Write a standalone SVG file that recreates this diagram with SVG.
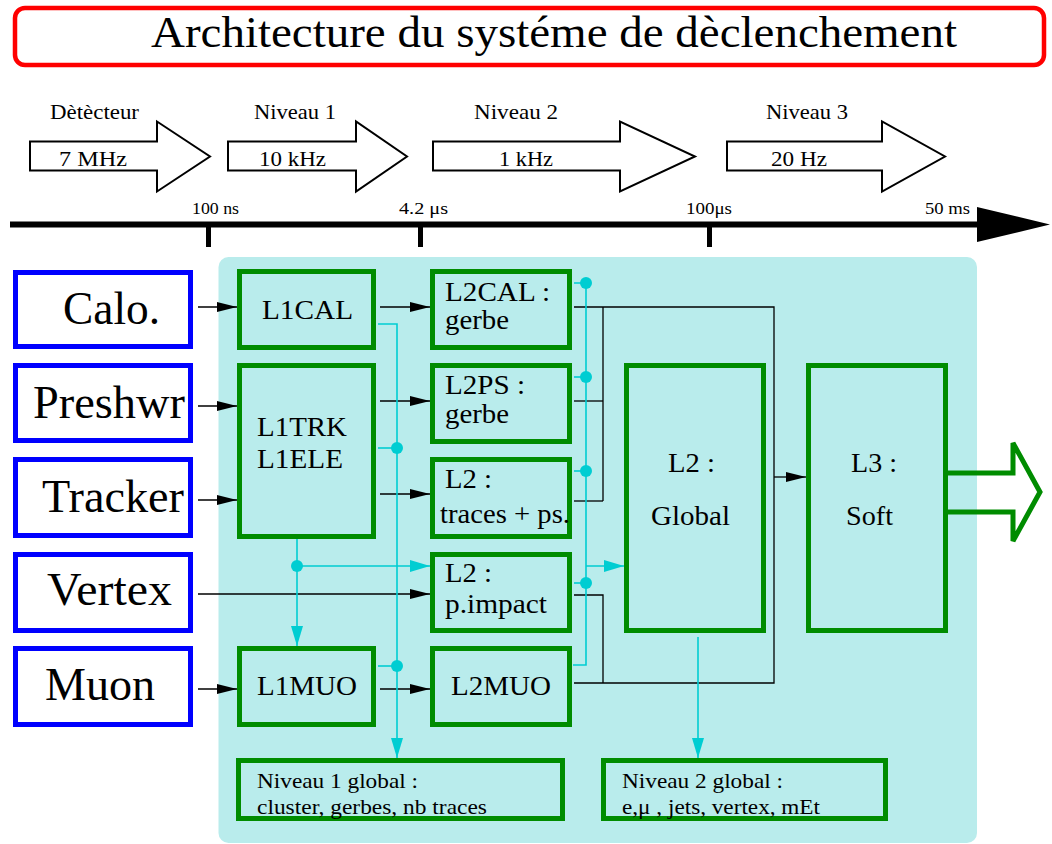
<svg xmlns="http://www.w3.org/2000/svg" width="1052" height="844" viewBox="0 0 1052 844">
<style>
text{font-family:"Liberation Serif","Times New Roman",serif;fill:#000}
.gb{fill:none;stroke:#008c00;stroke-width:5}
.bb{fill:#fff;stroke:#0000ff;stroke-width:5}
.bk{fill:none;stroke:#000;stroke-width:1.3}
.cy{fill:none;stroke:#00cdd2;stroke-width:1.6}
.dot{fill:#00cdd2}
.ba{fill:#fff;stroke:#000;stroke-width:2}
.hd{font-size:22px}
.tk{font-size:16px}
.src{font-size:46px}
.gt{font-size:28px}
.sm{font-size:22px}
</style>
<defs>
<marker id="ab" markerWidth="20" markerHeight="10" refX="20" refY="5" orient="auto" markerUnits="userSpaceOnUse"><path d="M0,0 L20,5 L0,10 z" fill="#000"/></marker>
<marker id="ac" markerWidth="20" markerHeight="12" refX="20" refY="6" orient="auto" markerUnits="userSpaceOnUse"><path d="M0,0 L20,6 L0,12 z" fill="#00cdd2"/></marker>
</defs>

<g id="title">
<rect x="15" y="8" width="1029" height="57" rx="10" fill="#fff" stroke="#ff0000" stroke-width="4.5"/>
<text x="151" y="47" font-size="45" textLength="806" lengthAdjust="spacingAndGlyphs">Architecture du systéme de dèclenchement</text>
</g>

<g id="rates">
<path class="ba" d="M30,141.5 H157 V121.5 L210,156.5 L157,191.5 V170.5 H30 Z"/>
<path class="ba" d="M228,141.5 H356 V121.5 L407,156.5 L356,191.5 V170.5 H228 Z"/>
<path class="ba" d="M433,141.5 H620 V121.5 L695,156.5 L620,191.5 V170.5 H433 Z"/>
<path class="ba" d="M727,141.5 H882 V121.5 L945,156.5 L882,191.5 V170.5 H727 Z"/>
<text class="hd" x="50" y="119" textLength="89" lengthAdjust="spacingAndGlyphs">Dètècteur</text>
<text class="hd" x="254" y="119" textLength="82" lengthAdjust="spacingAndGlyphs">Niveau 1</text>
<text class="hd" x="474" y="119" textLength="84" lengthAdjust="spacingAndGlyphs">Niveau 2</text>
<text class="hd" x="766" y="119" textLength="82" lengthAdjust="spacingAndGlyphs">Niveau 3</text>
<text class="hd" x="59" y="166" textLength="68" lengthAdjust="spacingAndGlyphs">7 MHz</text>
<text class="hd" x="259" y="166" textLength="67" lengthAdjust="spacingAndGlyphs">10 kHz</text>
<text class="hd" x="499" y="166" textLength="54" lengthAdjust="spacingAndGlyphs">1 kHz</text>
<text class="hd" x="771" y="166" textLength="56" lengthAdjust="spacingAndGlyphs">20 Hz</text>
</g>

<g id="timeline">
<line x1="10" y1="224.5" x2="980" y2="224.5" stroke="#000" stroke-width="6"/>
<path d="M977,207 L1050,224.5 L977,242 Z" fill="#000"/>
<line x1="208.5" y1="224" x2="208.5" y2="247" stroke="#000" stroke-width="5"/>
<line x1="420.5" y1="224" x2="420.5" y2="247" stroke="#000" stroke-width="5"/>
<line x1="709.5" y1="224" x2="709.5" y2="247" stroke="#000" stroke-width="5"/>
<text class="tk" x="192" y="214" textLength="47" lengthAdjust="spacingAndGlyphs">100 ns</text>
<text class="tk" x="399" y="214" textLength="49" lengthAdjust="spacingAndGlyphs">4.2 μs</text>
<text class="tk" x="686" y="214" textLength="46" lengthAdjust="spacingAndGlyphs">100μs</text>
<text class="tk" x="925" y="214" textLength="45" lengthAdjust="spacingAndGlyphs">50 ms</text>
</g>

<rect id="panel" x="218.5" y="257" width="758.5" height="586" rx="10" fill="#b9ecec"/>

<g id="out-arrow">
<path d="M948,473 H1013 V443 L1040,492 L1013,541 V512 H948" fill="none" stroke="#008c00" stroke-width="5"/>
</g>

<g id="calo"><rect class="bb" x="15.5" y="272.5" width="175" height="74"/><text class="src" x="63" y="324" textLength="97" lengthAdjust="spacingAndGlyphs">Calo.</text></g>
<g id="preshwr"><rect class="bb" x="15.5" y="365.5" width="175" height="75"/><text class="src" x="33" y="418" textLength="152" lengthAdjust="spacingAndGlyphs">Preshwr</text></g>
<g id="tracker"><rect class="bb" x="15.5" y="459.5" width="175" height="76"/><text class="src" x="42" y="512" textLength="142" lengthAdjust="spacingAndGlyphs">Tracker</text></g>
<g id="vertex"><rect class="bb" x="15.5" y="554.5" width="175" height="76"/><text class="src" x="47" y="605" textLength="125" lengthAdjust="spacingAndGlyphs">Vertex</text></g>
<g id="muon"><rect class="bb" x="15.5" y="648.5" width="175" height="76"/><text class="src" x="45" y="700" textLength="110" lengthAdjust="spacingAndGlyphs">Muon</text></g>

<g id="l1cal"><rect class="gb" x="239.5" y="271.5" width="134" height="76"/><text class="gt" x="262" y="319" textLength="91" lengthAdjust="spacingAndGlyphs">L1CAL</text></g>
<g id="l1trk"><rect class="gb" x="239.5" y="365.5" width="134" height="171"/><text class="gt" x="257" y="436" textLength="90" lengthAdjust="spacingAndGlyphs">L1TRK</text><text class="gt" x="257" y="468" textLength="86" lengthAdjust="spacingAndGlyphs">L1ELE</text></g>
<g id="l1muo"><rect class="gb" x="239.5" y="648.5" width="134" height="76"/><text class="gt" x="257" y="695" textLength="100" lengthAdjust="spacingAndGlyphs">L1MUO</text></g>

<g id="l2cal"><rect class="gb" x="432.5" y="271.5" width="137" height="76"/><text class="gt" x="445" y="301" textLength="105" lengthAdjust="spacingAndGlyphs">L2CAL :</text><text class="gt" x="445" y="329" textLength="64" lengthAdjust="spacingAndGlyphs">gerbe</text></g>
<g id="l2ps"><rect class="gb" x="432.5" y="365.5" width="137" height="76"/><text class="gt" x="445" y="394" textLength="80" lengthAdjust="spacingAndGlyphs">L2PS :</text><text class="gt" x="445" y="423" textLength="64" lengthAdjust="spacingAndGlyphs">gerbe</text></g>
<g id="l2trk"><rect class="gb" x="432.5" y="459.5" width="137" height="77"/><text class="gt" x="445" y="488" textLength="47" lengthAdjust="spacingAndGlyphs">L2 :</text><text class="gt" x="440" y="523" textLength="130" lengthAdjust="spacingAndGlyphs">traces + ps.</text></g>
<g id="l2imp"><rect class="gb" x="432.5" y="554.5" width="137" height="76"/><text class="gt" x="445" y="582" textLength="47" lengthAdjust="spacingAndGlyphs">L2 :</text><text class="gt" x="445" y="613" textLength="102" lengthAdjust="spacingAndGlyphs">p.impact</text></g>
<g id="l2muo"><rect class="gb" x="432.5" y="648.5" width="137" height="76"/><text class="gt" x="451" y="695" textLength="100" lengthAdjust="spacingAndGlyphs">L2MUO</text></g>

<g id="l2global"><rect class="gb" x="626.5" y="365.5" width="137" height="265"/><text class="gt" x="668" y="472" textLength="47" lengthAdjust="spacingAndGlyphs">L2 :</text><text class="gt" x="651" y="525" textLength="79" lengthAdjust="spacingAndGlyphs">Global</text></g>
<g id="l3soft"><rect class="gb" x="808.5" y="365.5" width="137" height="265"/><text class="gt" x="851" y="472" textLength="46" lengthAdjust="spacingAndGlyphs">L3 :</text><text class="gt" x="846" y="525" textLength="47" lengthAdjust="spacingAndGlyphs">Soft</text></g>

<g id="n1global"><rect class="gb" x="238.5" y="760.5" width="324" height="58"/><text class="sm" x="257" y="788" textLength="161" lengthAdjust="spacingAndGlyphs">Niveau 1 global :</text><text class="sm" x="257" y="814" textLength="230" lengthAdjust="spacingAndGlyphs">cluster, gerbes, nb traces</text></g>
<g id="n2global"><rect class="gb" x="603.5" y="760.5" width="282" height="58"/><text class="sm" x="622" y="788" textLength="161" lengthAdjust="spacingAndGlyphs">Niveau 2 global :</text><text class="sm" x="622" y="814" textLength="198" lengthAdjust="spacingAndGlyphs">e,μ , jets, vertex, mEt</text></g>

<g id="connectors">
<line class="bk" x1="198" y1="307" x2="237" y2="307" marker-end="url(#ab)"/>
<line class="bk" x1="198" y1="406" x2="237" y2="406" marker-end="url(#ab)"/>
<line class="bk" x1="198" y1="500" x2="237" y2="500" marker-end="url(#ab)"/>
<line class="bk" x1="198" y1="594" x2="430" y2="594" marker-end="url(#ab)"/>
<line class="bk" x1="198" y1="689" x2="237" y2="689" marker-end="url(#ab)"/>
<line class="bk" x1="380" y1="307" x2="430" y2="307" marker-end="url(#ab)"/>
<line class="bk" x1="380" y1="401" x2="430" y2="401" marker-end="url(#ab)"/>
<line class="bk" x1="380" y1="494" x2="430" y2="494" marker-end="url(#ab)"/>
<line class="bk" x1="380" y1="689" x2="430" y2="689" marker-end="url(#ab)"/>
<path class="bk" d="M574,307 H774 V683 H574"/>
<path class="bk" d="M603,307 V501"/>
<path class="bk" d="M574,401 H603"/>
<path class="bk" d="M574,501 H603"/>
<path class="bk" d="M574,595 H603 V683"/>
<line class="bk" x1="774" y1="477" x2="806" y2="477" marker-end="url(#ab)"/>

<path class="cy" d="M378,324 H397 V758" marker-end="url(#ac)"/>
<path class="cy" d="M378,448 H397"/>
<circle class="dot" cx="397" cy="448" r="6"/>
<path class="cy" d="M378,666 H397"/>
<circle class="dot" cx="397" cy="666" r="6"/>
<path class="cy" d="M297,539 V646" marker-end="url(#ac)"/>
<path class="cy" d="M297,566 H430" marker-end="url(#ac)"/>
<circle class="dot" cx="297" cy="566" r="6"/>
<path class="cy" d="M574,283 H586 V665 H573"/>
<path class="cy" d="M574,377 H586"/>
<path class="cy" d="M574,471 H586"/>
<path class="cy" d="M574,583 H586"/>
<circle class="dot" cx="586" cy="283" r="6"/>
<circle class="dot" cx="586" cy="377" r="6"/>
<circle class="dot" cx="586" cy="471" r="6"/>
<circle class="dot" cx="586" cy="583" r="6"/>
<path class="cy" d="M586,566 H624" marker-end="url(#ac)"/>
<path class="cy" d="M698,637 V758" marker-end="url(#ac)"/>
</g>
</svg>
